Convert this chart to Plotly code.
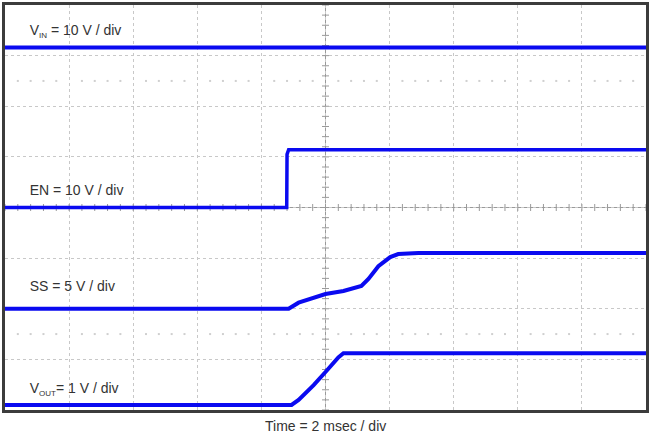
import numpy as np
import plotly.graph_objects as go

# Time in ms (2 ms/div, 10 div), amplitudes in divisions (0..8)
vin_t = [0, 20]
vin_y = [7.16, 7.16]

en_t = [0, 8.79, 8.80, 8.85, 20]
en_y = [4.0, 4.0, 5.05, 5.14, 5.14]

ss_t = [0, 8.85, 9.16, 10.0, 10.56, 11.12, 11.34, 11.65, 12.02, 12.27, 12.9, 20]
ss_y = [2.0, 2.0, 2.12, 2.29, 2.35, 2.45, 2.59, 2.84, 3.02, 3.08, 3.10, 3.10]

vout_t = [0, 8.94, 9.16, 9.63, 10.0, 10.4, 10.56, 20]
vout_y = [0.10, 0.10, 0.20, 0.49, 0.75, 1.04, 1.12, 1.12]

labels = ["V<sub><span style='font-size:8px'>IN</span></sub> = 10 V / div", "EN = 10 V / div",
          "SS = 5 V / div", "V<sub><span style='font-size:8px'>OUT</span></sub>= 1 V / div"]
label_y = [7.47, 4.31, 2.41, 0.41]
ground_y = [6.0, 4.0, 2.0, 0.1]
x_title = "Time = 2 msec / div"

BLUE = "#0a0af0"
fig = go.Figure()

# minor dot rows
dot_x = [x for d in range(10) for x in (2*d + 0.4*k for k in range(1, 5))]
for yy in (6.5, 1.5):
    fig.add_trace(go.Scatter(x=dot_x, y=[yy]*len(dot_x), mode="markers",
                             marker=dict(symbol="square", size=2, color="#cfcfcf"),
                             hoverinfo="skip", showlegend=False))

# center cross ticks
tx = np.arange(0, 20.001, 0.4)
fig.add_trace(go.Scatter(x=tx, y=[4]*len(tx), mode="markers",
                         marker=dict(symbol="line-ns", size=5, line=dict(width=1, color="#9a9a9a")),
                         hoverinfo="skip", showlegend=False))
ty = np.arange(0, 8.001, 0.2)
fig.add_trace(go.Scatter(x=[10]*len(ty), y=ty, mode="markers",
                         marker=dict(symbol="line-ew", size=5, line=dict(width=1, color="#9a9a9a")),
                         hoverinfo="skip", showlegend=False))

for t, y, w in [(vin_t, vin_y, 4), (en_t, en_y, 3.5), (ss_t, ss_y, 4), (vout_t, vout_y, 4)]:
    fig.add_trace(go.Scatter(x=t, y=y, mode="lines", line=dict(color=BLUE, width=w),
                             hoverinfo="skip", showlegend=False))

# ground markers
fig.add_trace(go.Scatter(x=[-0.12]*len(ground_y), y=ground_y, mode="markers", cliponaxis=False,
                         marker=dict(symbol="triangle-right", size=5, color="#333333"),
                         hoverinfo="skip", showlegend=False))

# channel labels
fig.add_trace(go.Scatter(x=[0.77]*len(labels), y=label_y, text=labels, mode="text",
                         textposition="middle right",
                         textfont=dict(family="Liberation Sans, Arial", size=14, color="#333333"),
                         hoverinfo="skip", showlegend=False))

fig.add_shape(type="line", x0=10, x1=10, y0=0, y1=8, line=dict(color="#9a9a9a", width=1), layer="below")
fig.add_shape(type="line", x0=0, x1=20, y0=4, y1=4, line=dict(color="#9a9a9a", width=1), layer="below")

fig.update_layout(
    width=651, height=434,
    margin=dict(l=5, r=3, t=2, b=24),
    paper_bgcolor="white", plot_bgcolor="white",
    xaxis=dict(range=[0, 20], dtick=2, showticklabels=False, ticks="", zeroline=False,
               showgrid=True, gridcolor="#c8c8c8", griddash="dot", gridwidth=1,
               showline=True, mirror=True, linecolor="#3c3c3c", linewidth=3),
    yaxis=dict(range=[0, 8], dtick=1, showticklabels=False, ticks="", zeroline=False,
               showgrid=True, gridcolor="#c8c8c8", griddash="dot", gridwidth=1,
               showline=True, mirror=True, linecolor="#3c3c3c", linewidth=3),
)
fig.add_annotation(x=0.5, y=-0.016, xref="paper", yref="paper", text=x_title, showarrow=False,
                   xanchor="center", yanchor="top",
                   font=dict(family="Liberation Sans, Arial", size=14, color="#333333"))

fig.write_html("out.html", config={"displayModeBar": False},
               post_script="document.body.style.margin='0';document.body.style.overflow='hidden';")
